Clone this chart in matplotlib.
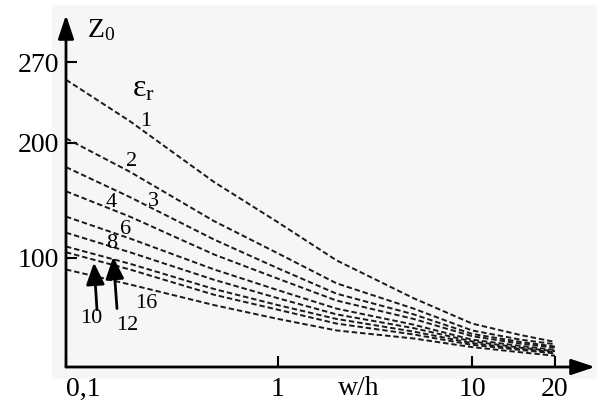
import numpy as np
import matplotlib.pyplot as plt
from matplotlib.patches import Rectangle
from matplotlib.ticker import NullLocator

plt.rcParams['font.family'] = ['Liberation Serif', 'DejaVu Serif']
plt.rcParams['mathtext.fontset'] = 'custom'
plt.rcParams['mathtext.rm'] = 'Liberation Serif'
plt.rcParams['mathtext.it'] = 'Liberation Serif:italic'

# w/h values and Z0 for each eps_r
wh = [0.1, 0.2, 0.5, 1, 2, 5, 10, 15, 20]
z_er1 = [255, 219, 166, 131, 98, 65, 43, 33, 27]
z_er2 = [204, 175, 132, 104, 78, 56, 37, 29, 25]
z_er3 = [179, 153, 116, 91, 69, 51, 34, 27, 23]
z_er4 = [158, 136, 103, 82, 63, 47, 32, 25.5, 22]
z_er6 = [136, 117, 90, 72, 56, 42, 29, 23.5, 20]
z_er8 = [122, 105, 81, 65, 51, 39, 27.5, 22, 19]
z_er10 = [110, 95, 73, 59, 47, 36, 26, 21, 18]
z_er12 = [105, 90, 68, 55, 43, 33.5, 24.5, 20, 17]
z_er16 = [90, 77, 59, 47, 37, 30, 22.5, 18, 15]
curves = [z_er1, z_er2, z_er3, z_er4, z_er6, z_er8, z_er10, z_er12, z_er16]

xticks = [0.1, 1, 10, 20]
xticklabels = ['0,1', '1', '10', '20']
yticks = [100, 200, 270]

# the hand drawn log axis is not quite even, so map it piecewise
LOGK = np.array([-3, -1, 0, 1, np.log10(20), 3])
PIX = np.array([-424, 0, 212, 406, 489, 489 + (3 - np.log10(20)) * 276])

def fwd(x):
    return np.interp(np.log10(np.clip(x, 1e-12, None)), LOGK, PIX)

def inv(p):
    return 10 ** np.interp(p, PIX, LOGK)

fig = plt.figure(figsize=(5.97, 4.03), dpi=100)
fig.patches.append(Rectangle((52 / 597, 25 / 403), 545 / 597, 373 / 403,
                             transform=fig.transFigure, color='#f6f6f6', zorder=-5))
ax = fig.add_axes([66 / 597, 36 / 403, 529 / 597, 352 / 403])
ax.set_facecolor('none')
ax.set_xscale('function', functions=(fwd, inv))
ax.set_xlim(0.1, inv(529))
ax.set_ylim(5.2, 311.3)

for z in curves:
    ax.plot(wh, z, color='#1a1a1a', lw=1.4, ls=(0, (2.8, 1.5)))

for s in ax.spines.values():
    s.set_visible(False)

ax.set_xticks(xticks, xticklabels)
ax.set_yticks(yticks)
ax.xaxis.set_minor_locator(NullLocator())
ax.yaxis.set_minor_locator(NullLocator())
ax.tick_params(direction='in', length=8, width=1.5, labelsize=20, color='k')
ax.tick_params(axis='x', pad=7)
ax.tick_params(axis='y', pad=5)
ax.get_xticklabels()[0].set_ha('left')

# axis arrows
ax.annotate('', xy=(0, 1), xytext=(0, 0), xycoords='axes fraction',
            arrowprops=dict(arrowstyle='-|>,head_length=0.9,head_width=0.3', color='k',
                            lw=2, mutation_scale=16, shrinkA=0, shrinkB=0))
ax.annotate('', xy=(1, 0), xytext=(0, 0), xycoords='axes fraction',
            arrowprops=dict(arrowstyle='-|>,head_length=0.9,head_width=0.3', color='k',
                            lw=2, mutation_scale=16, shrinkA=0, shrinkB=0))

ax.text(0.147, 298, 'Z$_0$', fontsize=20, ha='center', va='center')
ax.text(2.62, -0.06, 'w/h', fontsize=20, ha='center', va='center',
        transform=ax.get_xaxis_transform())
ax.text(0.232, 247, 'ε$_\\mathrm{r}$', fontsize=23, ha='center', va='center')

labels = [('1', 0.238, 219), ('2', 0.204, 184), ('3', 0.258, 149), ('4', 0.164, 148),
          ('6', 0.190, 125), ('8', 0.165, 113), ('10', 0.131, 47), ('12', 0.194, 41),
          ('16', 0.238, 60)]
for t, x, y in labels:
    ax.text(x, y, t, fontsize=16, ha='center', va='center')

arrow = dict(arrowstyle='-|>,head_length=0.95,head_width=0.4', color='k', lw=2,
             mutation_scale=14, shrinkA=0, shrinkB=0)
ax.annotate('', xy=(0.1355, 96), xytext=(0.140, 55), arrowprops=arrow)
ax.annotate('', xy=(0.167, 101), xytext=(0.174, 56), arrowprops=arrow)

fig.savefig('out.png', dpi=100)
